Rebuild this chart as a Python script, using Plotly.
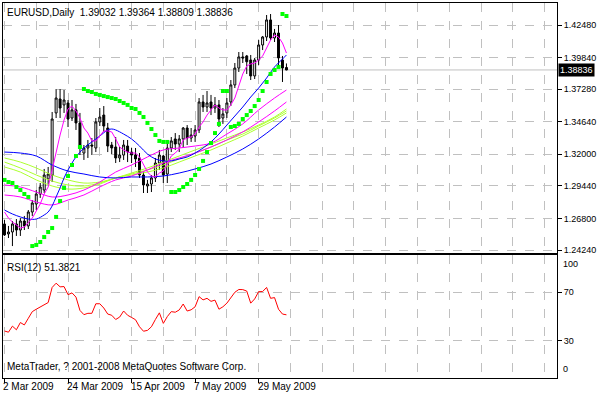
import plotly.graph_objects as go

# ---------------- data ----------------
bars = list(range(72))

open_ = [1.2635, 1.2554, 1.2570, 1.2635, 1.2586, 1.2659, 1.2619, 1.2732, 1.2797, 1.2878,
         1.2910, 1.3000, 1.3032, 1.3535, 1.3648, 1.3600, 1.3616, 1.3494, 1.3560, 1.3454,
         1.3210, 1.3251, 1.3275, 1.3251, 1.3462, 1.3518, 1.3413, 1.3275, 1.3259, 1.3170,
         1.3194, 1.3267, 1.3218, 1.3194, 1.3170, 1.3032, 1.2943, 1.2959, 1.3008, 1.3129,
         1.3186, 1.3040, 1.3251, 1.3324, 1.3283, 1.3324, 1.3413, 1.3332, 1.3348, 1.3397,
         1.3624, 1.3583, 1.3624, 1.3575, 1.3600, 1.3494, 1.3535, 1.3624, 1.3762, 1.3899,
         1.3989, 1.3997, 1.3964, 1.3835, 1.3964, 1.4086, 1.4151, 1.4289, 1.4143, 1.4183,
         1.3964, 1.39032]
high = [1.2667, 1.2619, 1.2659, 1.2675, 1.2683, 1.2700, 1.2748, 1.2829, 1.2910, 1.2967,
        1.3081, 1.3097, 1.3543, 1.3729, 1.3729, 1.3721, 1.3640, 1.3640, 1.3608, 1.3535,
        1.3275, 1.3316, 1.3332, 1.3494, 1.3575, 1.3591, 1.3454, 1.3300, 1.3340, 1.3259,
        1.3316, 1.3316, 1.3251, 1.3251, 1.3210, 1.3056, 1.2992, 1.3032, 1.3170, 1.3235,
        1.3194, 1.3292, 1.3340, 1.3372, 1.3356, 1.3421, 1.3437, 1.3413, 1.3437, 1.3656,
        1.3681, 1.3713, 1.3681, 1.3664, 1.3640, 1.3575, 1.3656, 1.3802, 1.3940, 1.4029,
        1.4029, 1.4005, 1.4005, 1.3981, 1.4126, 1.4159, 1.4329, 1.4337, 1.4216, 1.4248,
        1.3997, 1.39364]
low = [1.2538, 1.2521, 1.2456, 1.2538, 1.2538, 1.2586, 1.2594, 1.2700, 1.2748, 1.2846,
       1.2886, 1.2959, 1.2975, 1.3494, 1.3494, 1.3535, 1.3421, 1.3470, 1.3397, 1.3194,
       1.3154, 1.3170, 1.3194, 1.3218, 1.3429, 1.3381, 1.3218, 1.3202, 1.3129, 1.3137,
       1.3154, 1.3137, 1.3129, 1.3097, 1.3008, 1.2886, 1.2886, 1.2894, 1.2975, 1.3073,
       1.2967, 1.2967, 1.3218, 1.3235, 1.3218, 1.3251, 1.3275, 1.3300, 1.3300, 1.3372,
       1.3543, 1.3543, 1.3518, 1.3535, 1.3421, 1.3446, 1.3494, 1.3591, 1.3737, 1.3867,
       1.3940, 1.3851, 1.3802, 1.3810, 1.3924, 1.4045, 1.4118, 1.4126, 1.4110, 1.3916,
       1.3786, 1.38809]
close = [1.2546, 1.2570, 1.2635, 1.2586, 1.2659, 1.2619, 1.2732, 1.2805, 1.2878, 1.2935,
         1.3032, 1.3040, 1.3486, 1.3656, 1.3575, 1.3640, 1.3486, 1.3560, 1.3454, 1.3275,
         1.3251, 1.3275, 1.3267, 1.3462, 1.3502, 1.3429, 1.3267, 1.3251, 1.3170, 1.3194,
         1.3275, 1.3218, 1.3194, 1.3162, 1.3032, 1.2951, 1.2959, 1.3008, 1.3129, 1.3194,
         1.3032, 1.3251, 1.3308, 1.3283, 1.3324, 1.3413, 1.3332, 1.3356, 1.3397, 1.3624,
         1.3583, 1.3616, 1.3575, 1.3600, 1.3486, 1.3527, 1.3616, 1.3762, 1.3899, 1.3989,
         1.3981, 1.3950, 1.3835, 1.3964, 1.4086, 1.4151, 1.4289, 1.4143, 1.4183, 1.3981,
         1.3899, 1.38836]

# fast magenta average (every bar)
ma_fast = [1.2732, 1.2683, 1.2651, 1.2627, 1.2602, 1.2610, 1.2643, 1.2683, 1.2740, 1.2797,
           1.2878, 1.2935, 1.3073, 1.3227, 1.3356, 1.3478, 1.3567, 1.3591, 1.3551, 1.3494,
           1.3413, 1.3372, 1.3308, 1.3308, 1.3348, 1.3389, 1.3389, 1.3381, 1.3324, 1.3259,
           1.3235, 1.3218, 1.3210, 1.3210, 1.3178, 1.3113, 1.3056, 1.3024, 1.3016, 1.3048,
           1.3064, 1.3121, 1.3186, 1.3210, 1.3243, 1.3316, 1.3332, 1.3340, 1.3364, 1.3421,
           1.3462, 1.3518, 1.3559, 1.3600, 1.3575, 1.3559, 1.3559, 1.3600, 1.3656, 1.3762,
           1.3851, 1.3916, 1.3932, 1.3940, 1.3964, 1.3997, 1.4062, 1.4126, 1.4167, 1.4151,
           1.4102, 1.4021]

# medium blue average (sampled bars)
mid_bars = [0, 2, 4, 6, 8, 10, 11, 12, 13, 14, 15, 16, 17, 18, 20, 22, 24, 26, 27, 28,
            30, 32, 34, 36, 38, 40, 42, 44, 46, 48, 50, 52, 54, 56, 58, 60, 62, 64, 66, 68,
            70, 71]
ma_mid = [1.2748, 1.2716, 1.2692, 1.2675, 1.2675, 1.2708, 1.2732, 1.2781, 1.2854, 1.2927,
          1.3008, 1.3073, 1.3129, 1.3178, 1.3251, 1.3300, 1.3348, 1.3397, 1.3405, 1.3397,
          1.3364, 1.3324, 1.3267, 1.3202, 1.3162, 1.3146, 1.3146, 1.3162, 1.3178, 1.3210,
          1.3251, 1.3300, 1.3364, 1.3437, 1.3510, 1.3583, 1.3664, 1.3737, 1.3818, 1.3908,
          1.3972, 1.4005]

# slower lines (sampled bars)
slow_bars = [0, 4, 8, 12, 16, 20, 24, 28, 32, 36, 40, 44, 48, 52, 56, 60, 64, 68, 71]
ma_slow_blue = [1.3218, 1.3210, 1.3186, 1.3113, 1.3064, 1.3040, 1.3016, 1.3008, 1.3016, 1.3016,
                1.3024, 1.3048, 1.3081, 1.3121, 1.3178, 1.3243, 1.3324, 1.3421, 1.3502]
mag_upper = [1.2951, 1.2935, 1.2894, 1.2854, 1.2870, 1.2910, 1.2975, 1.3056, 1.3113, 1.3178,
             1.3235, 1.3251, 1.3267, 1.3291, 1.3364, 1.3446, 1.3559, 1.3656, 1.3721]
mag_lower = [1.2870, 1.2854, 1.2813, 1.2789, 1.2829, 1.2870, 1.2935, 1.2992, 1.3024, 1.3073,
             1.3129, 1.3170, 1.3210, 1.3259, 1.3316, 1.3381, 1.3462, 1.3551, 1.3624]
yg_1 = [1.3170, 1.3137, 1.3089, 1.3032, 1.2992, 1.2967, 1.2975, 1.3008, 1.3048, 1.3089,
        1.3137, 1.3186, 1.3235, 1.3283, 1.3332, 1.3381, 1.3437, 1.3502, 1.3567]
yg_2 = [1.3137, 1.3089, 1.3032, 1.2983, 1.2951, 1.2943, 1.2967, 1.3008, 1.3040, 1.3073,
        1.3113, 1.3162, 1.3210, 1.3259, 1.3316, 1.3364, 1.3429, 1.3494, 1.3551]
yg_3 = [1.3097, 1.3056, 1.2992, 1.2943, 1.2918, 1.2927, 1.2959, 1.3008, 1.3032, 1.3056,
        1.3089, 1.3137, 1.3186, 1.3235, 1.3291, 1.3348, 1.3413, 1.3478, 1.3535]

# parabolic SAR dots
sar = [1.2992, 1.2975, 1.2967, 1.2935, 1.2910, 1.2878, 1.2854,
       1.2456, 1.2465, 1.2489, 1.2529, 1.2570, 1.2602, 1.2692, 1.2821, 1.2927, 1.3024, 1.3113,
       1.3186, 1.3259,
       1.3729, 1.3713, 1.3705, 1.3689, 1.3681, 1.3672, 1.3664, 1.3656, 1.3648, 1.3632,
       1.3616, 1.3600, 1.3575, 1.3567, 1.3535, 1.3502, 1.3454, 1.3405, 1.3356, 1.3308,
       1.3300, 1.3300,
       1.2894, 1.2894, 1.2910, 1.2935, 1.2959, 1.2992, 1.3032, 1.3081, 1.3146, 1.3218,
       1.3291, 1.3372, 1.3446,
       1.3713, 1.3713,
       1.3421, 1.3429, 1.3446, 1.3486, 1.3518, 1.3551, 1.3591, 1.3640, 1.3713, 1.3786,
       1.3851, 1.3883, 1.3908,
       1.4337, 1.4321]

rsi = [38, 37, 42, 39, 45, 43, 48.5, 54, 56, 58, 60, 61.5, 74, 77.5, 74.5, 74.7, 68, 69.5,
       66, 55, 51.5, 52.6, 52.6, 60.5, 60.5, 57, 52, 51, 47.5, 49.5, 54.5, 51, 49.2, 47.3,
       41.5, 37.8, 38.5, 41.5, 47.5, 53, 44.3, 49.9, 54, 53.5, 55.4, 60.3, 54.5, 55.5, 58,
       66.4, 63.7, 65, 62.5, 63.5, 56, 58, 61, 66, 70, 72.3, 72.2, 71, 61, 64.5, 70.5, 70.6,
       74, 65, 65.6, 56, 52, 51.3821]

price_ticks = [1.42480, 1.39840, 1.37280, 1.34640, 1.32000, 1.29440, 1.26800, 1.24240]
rsi_ticks = [70, 30]
date_bars = [0, 16, 32, 48, 64]
date_labels = ["2 Mar 2009", "24 Mar 2009", "15 Apr 2009", "7 May 2009", "29 May 2009"]
grid_bars = list(range(0, 140, 8))

# ---------------- style ----------------
FONT = "Liberation Sans, Arial, sans-serif"
FS = 9
FT = 10
MAGENTA = "#FF00FF"
BLUE = "#0000FF"
YG = "#ADFF2F"
GRID = "#C0C0C0"

fig = go.Figure()

fig.add_trace(go.Candlestick(
    x=bars, open=open_, high=high, low=low, close=close,
    increasing=dict(line=dict(color="black", width=1), fillcolor="white"),
    decreasing=dict(line=dict(color="black", width=1), fillcolor="black"),
    whiskerwidth=0, xaxis="x", yaxis="y", hoverinfo="skip"))

line_kw = dict(mode="lines", xaxis="x", yaxis="y", hoverinfo="skip")
fig.add_trace(go.Scatter(x=slow_bars, y=yg_3, line=dict(color=YG, width=1, shape="spline"), **line_kw))
fig.add_trace(go.Scatter(x=slow_bars, y=yg_2, line=dict(color=YG, width=1, shape="spline"), **line_kw))
fig.add_trace(go.Scatter(x=slow_bars, y=yg_1, line=dict(color=YG, width=1, shape="spline"), **line_kw))
fig.add_trace(go.Scatter(x=slow_bars, y=mag_lower, line=dict(color=MAGENTA, width=1, shape="spline"), **line_kw))
fig.add_trace(go.Scatter(x=slow_bars, y=mag_upper, line=dict(color=MAGENTA, width=1, shape="spline"), **line_kw))
fig.add_trace(go.Scatter(x=slow_bars, y=ma_slow_blue, line=dict(color=BLUE, width=1, shape="spline"), **line_kw))
fig.add_trace(go.Scatter(x=mid_bars, y=ma_mid, line=dict(color=BLUE, width=1, shape="spline"), **line_kw))
fig.add_trace(go.Scatter(x=bars, y=ma_fast, line=dict(color=MAGENTA, width=1), **line_kw))

fig.add_trace(go.Scatter(x=bars, y=sar, mode="markers", xaxis="x", yaxis="y", hoverinfo="skip",
                         marker=dict(color="#00FF00", size=4, symbol="square",
                                     line=dict(width=0))))

fig.add_trace(go.Scatter(x=bars, y=rsi, mode="lines", xaxis="x2", yaxis="y2", hoverinfo="skip",
                         line=dict(color="#FF0000", width=1)))

# current price line
fig.add_shape(type="line", xref="x domain", yref="y", x0=0, x1=1, y0=close[-1], y1=close[-1],
              line=dict(color=GRID, width=1), layer="below")

xrange = [-0.375, 139.125]
axis_common = dict(showline=True, mirror=True, linecolor="black", linewidth=1, zeroline=False)

fig.update_layout(
    width=598, height=395,
    margin=dict(l=2, r=38, t=3, b=17),
    paper_bgcolor="white", plot_bgcolor="white",
    showlegend=False,
    font=dict(family=FONT, size=FS, color="black"),
    xaxis=dict(domain=[0, 1], range=xrange, anchor="y", tickvals=grid_bars,
               showticklabels=False, ticks="", showgrid=True, gridcolor=GRID,
               griddash="dash", gridwidth=1, rangeslider=dict(visible=False), **axis_common),
    yaxis=dict(domain=[0.33333, 1], range=[1.239967, 1.442635], side="right", anchor="x",
               tickvals=price_ticks, ticktext=[f"{v:.5f}" for v in price_ticks],
               ticks="outside", ticklen=4, tickcolor="black", showgrid=True, gridcolor=GRID,
               griddash="dash", gridwidth=1, tickfont=dict(family=FONT, size=FS), **axis_common),
    xaxis2=dict(domain=[0, 1], range=xrange, anchor="y2", tickvals=date_bars,
                showticklabels=False, ticks="outside", ticklen=4, tickcolor="black",
                showgrid=False,
                minor=dict(tickvals=grid_bars, showgrid=True, gridcolor=GRID, griddash="dash",
                           gridwidth=1, ticks=""),
                **axis_common),
    yaxis2=dict(domain=[0, 0.328], range=[-0.85, 100.8], side="right", anchor="x2",
                tickvals=rsi_ticks, ticktext=[str(v) for v in rsi_ticks],
                ticks="outside", ticklen=4, tickcolor="black", showgrid=True, gridcolor=GRID,
                griddash="dash", gridwidth=1, tickfont=dict(family=FONT, size=FS), **axis_common),
)

# annotations
ann = []
ann.append(dict(text="EURUSD,Daily\u00a0\u00a0" + " ".join(f"{v:.5f}" for v in
                [open_[-1], high[-1], low[-1], close[-1]]),
                xref="paper", yref="paper", x=0, y=1, xanchor="left", yanchor="top",
                xshift=2, yshift=-2, showarrow=False, font=dict(family=FONT, size=FT)))
ann.append(dict(text=f"{close[-1]:.5f}", xref="paper", yref="y", x=1, y=close[-1],
                xanchor="left", yanchor="middle", xshift=1, showarrow=False,
                bgcolor="black", font=dict(family=FONT, size=FS, color="white"), borderpad=1))
ann.append(dict(text=f"RSI(12) {rsi[-1]:.4f}", xref="paper", yref="y2 domain", x=0, y=1,
                xanchor="left", yanchor="top", xshift=2, yshift=-5, showarrow=False,
                font=dict(family=FONT, size=FT)))
ann.append(dict(text="MetaTrader, ? 2001-2008 MetaQuotes Software Corp.", xref="paper",
                yref="y2 domain", x=0, y=0, xanchor="left", yanchor="bottom", xshift=2,
                yshift=4, showarrow=False, font=dict(family=FONT, size=FT)))
ann.append(dict(text="100", xref="paper", yref="y2", x=1, y=100, xanchor="left",
                yanchor="top", xshift=4, yshift=-1, showarrow=False, font=dict(family=FONT, size=FS)))
ann.append(dict(text="0", xref="paper", yref="y2", x=1, y=0, xanchor="left",
                yanchor="bottom", xshift=4, yshift=1, showarrow=False, font=dict(family=FONT, size=FS)))
for b, lab in zip(date_bars, date_labels):
    ann.append(dict(text=lab, xref="x2", yref="y2 domain", x=b, y=0, xanchor="left",
                    yanchor="top", xshift=-3, yshift=-1, showarrow=False,
                    font=dict(family=FONT, size=FT)))
fig.update_layout(annotations=ann)

fig.write_html("out.html", config={"displayModeBar": False, "staticPlot": True},
               post_script="document.body.style.margin='0';")
